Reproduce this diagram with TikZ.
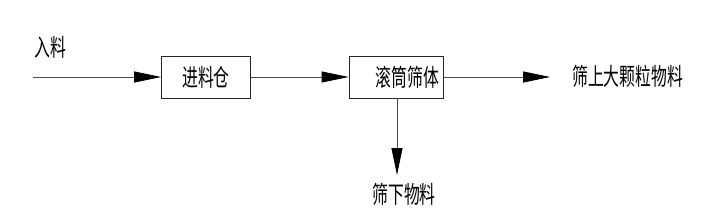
\documentclass[tikz,border=0pt]{standalone}
\usepackage{fontspec}
\newfontfamily\cjk[FakeStretch=0.66]{Noto Sans CJK SC}
\usetikzlibrary{arrows.meta}

\begin{document}
\begin{tikzpicture}[x=1pt, y=-1pt, every node/.style={font=\cjk\fontsize{24}{26}\selectfont, inner sep=0pt},
	>={Triangle[length=27pt, width=11pt, color=black]}, flow/.style={->, draw=black!70, line width=0.8pt}]
	\useasboundingbox (0,0) rectangle (701,222);
	% units and flows
	\node[draw=black!85, line width=0.8pt, minimum width=89pt, minimum height=42pt] (bin) at (206,77) {进料仓};
	\node[draw=black!85, line width=0.8pt, minimum width=94pt, minimum height=42pt, text width=86pt, align=right] (screen) at (396,77) {滚筒筛体};
	\coordinate (feed) at (33,77);
	\coordinate (overtip) at (550,77);
	\coordinate (undertip) at (397,175);
	\node (feedtext) at (50,47) {入料};
	\node[anchor=west] (over) at (572,76) {筛上大颗粒物料};
	\node (under) at (404,194) {筛下物料};
	\draw[flow] (feed) -- (bin);
	\draw[flow] (bin) -- (screen);
	\draw[flow] (screen) -- (overtip);
	\draw[flow] (screen.south -| undertip) -- (undertip);
\end{tikzpicture}
\end{document}
